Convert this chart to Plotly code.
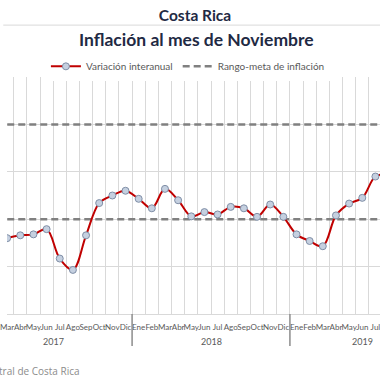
import plotly.graph_objects as go

years = ["2017", "2018", "2019"]
months = ["Ene", "Feb", "Mar", "Abr", "May", "Jun", "Jul", "Ago", "Sep", "Oct", "Nov", "Dic"]
last_month_2019 = 11  # through Noviembre 2019
first_data_index = 2  # data starts at Mar 2017
inflation = [1.60, 1.66, 1.68, 1.79, 1.17, 0.93, 1.66, 2.34, 2.50, 2.60,
             2.43, 2.23, 2.64, 2.40, 2.06, 2.15, 2.10, 2.26, 2.23, 2.05, 2.31, 2.05,
             1.68, 1.54, 1.43, 2.08, 2.33, 2.45, 2.90, 2.95]
target_low = 2.0
target_high = 4.0

# category positions
tick_pos, tick_txt, year_of = [], [], []
for yi, yr in enumerate(years):
    n = 12 if yi < len(years) - 1 else last_month_2019
    for mi in range(n):
        tick_pos.append(yi * 12 + mi)
        tick_txt.append(months[mi])
        year_of.append(yr)
n_cat = len(tick_pos)
data_x = [first_data_index + i for i in range(len(inflation))]

fig = go.Figure()
full_x = [-0.5, n_cat - 0.5]
fig.add_trace(go.Scatter(x=full_x, y=[target_high] * 2, mode="lines",
                         line=dict(color="#808080", width=2.5, dash="7px,4px"),
                         name="Rango-meta de inflación", legendrank=2))
fig.add_trace(go.Scatter(x=full_x, y=[target_low] * 2, mode="lines",
                         line=dict(color="#808080", width=2.5, dash="7px,4px"),
                         showlegend=False))
fig.add_trace(go.Scatter(x=data_x, y=inflation, mode="lines+markers",
                         line=dict(color="#c00000", width=2, shape="spline"),
                         marker=dict(size=7, color="#c5d0e0", line=dict(color="#7f8ea6", width=1)),
                         name="Variación interanual", legendrank=1))

px_per_cat = 13.4
x0 = 1.99
x1 = x0 + 380 / px_per_cat

# dividers between years and year labels
for yi in range(1, len(years)):
    b = yi * 12 - 0.5
    fig.add_shape(type="line", xref="x", yref="paper", x0=b, x1=b, y0=0, y1=-0.135,
                  line=dict(color="#8c8c8c", width=1.5))
for yr in years:
    idx = [p for p, y in zip(tick_pos, year_of) if y == yr]
    fig.add_annotation(x=sum(idx) / len(idx), y=-0.115, xref="x", yref="paper",
                       text=yr, showarrow=False, yanchor="middle",
                       font=dict(size=9, color="#595959", family="Lato"))

fig.add_annotation(x=193 / 380, y=1.16, xref="paper", yref="paper", text="<b>Inflación al mes de Noviembre</b>",
                   showarrow=False, yanchor="middle", font=dict(size=17.5, color="#1f2a44", family="Lato"))
fig.add_shape(type="line", xref="paper", yref="paper", x0=-0.01, x1=1.01, y0=1.219, y1=1.219,
              line=dict(color="#d9d9d9", width=1))
fig.add_annotation(x=76 / 380, y=-0.24, xref="paper", yref="paper", text="Fuente: Banco Central de Costa Rica",
                   showarrow=False, xanchor="right", yanchor="middle",
                   font=dict(size=10, color="#8c8c8c", family="Open Sans"))

fig.update_layout(
    width=380, height=380,
    margin=dict(l=0, r=0, t=77, b=66),
    paper_bgcolor="white", plot_bgcolor="white",
    title=dict(text="<b>Costa Rica</b>", x=195 / 380, xanchor="center", y=1 - 16 / 380, yanchor="middle",
               font=dict(size=15.5, color="#1f2a44", family="Lato")),
    showlegend=True,
    legend=dict(orientation="h", x=0.485, xanchor="center", y=1.045, yanchor="middle",
                font=dict(size=10, color="#595959", family="Lato"), itemwidth=30,
                traceorder="normal"),
    xaxis=dict(range=[x0, x1], tickmode="array", tickvals=tick_pos, ticktext=tick_txt,
               tickangle=0, showgrid=False, zeroline=False, showline=True, linecolor="#d9d9d9",
               tickfont=dict(size=8, color="#595959", family="Lato"), ticks="",
               ticklabeloverflow="allow", ticklabelstandoff=5,
               minor=dict(tickmode="array", tickvals=[p + 0.5 for p in tick_pos], showgrid=True,
                          gridcolor="#d9d9d9", gridwidth=1)),
    yaxis=dict(range=[0, 5], dtick=1, showgrid=True, gridcolor="#d9d9d9", zeroline=False,
               showticklabels=False),
)

fig.write_html("out.html", config={"displayModeBar": False},
               post_script="document.body.style.margin='0';")
